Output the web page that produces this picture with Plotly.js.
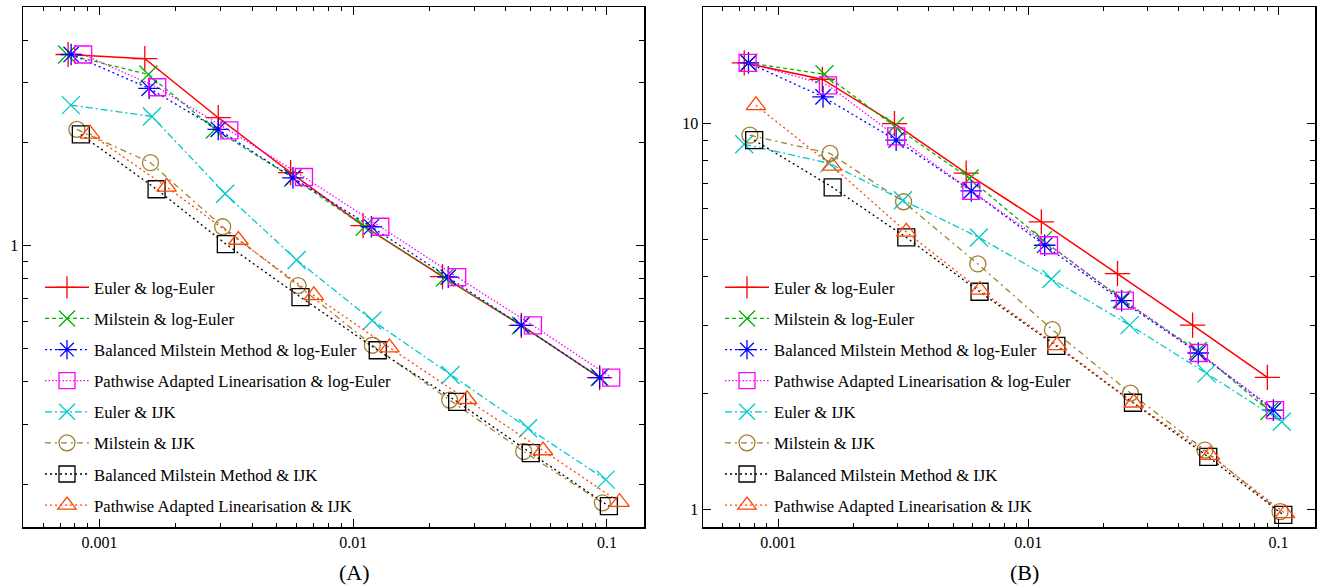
<!DOCTYPE html>
<html>
<head>
<meta charset="utf-8">
<script src="https://cdn.plot.ly/plotly-3.0.1.min.js"></script>
<style>
  html, body { margin: 0; padding: 0; background: #fff; }
  #chart { width: 1325px; height: 587px; }
</style>
</head>
<body>
<div id="chart"></div>
<script>
// Series names (shared by both panels)
const seriesNames = [
  "Euler & log-Euler",
  "Milstein & log-Euler",
  "Balanced Milstein Method & log-Euler",
  "Pathwise Adapted Linearisation & log-Euler",
  "Euler & IJK",
  "Milstein & IJK",
  "Balanced Milstein Method & IJK",
  "Pathwise Adapted Linearisation & IJK"
];

// Panel (A): step size vs error
const aEulerLogX   = [0.000753, 0.00151, 0.00294, 0.00567, 0.01094, 0.0225, 0.046, 0.0936];
const aEulerLogY   = [3.63, 3.53, 2.37, 1.636, 1.144, 0.812, 0.584, 0.411];
const aMilLogX     = [0.000746, 0.00156, 0.00285, 0.00579, 0.0111, 0.0230, 0.0458, 0.0936];
const aMilLogY     = [3.63, 3.17, 2.19, 1.58, 1.136, 0.807, 0.584, 0.412];
const aBalLogX     = [0.000774, 0.00157, 0.00294, 0.00579, 0.0118, 0.0237, 0.046, 0.0936];
const aBalLogY     = [3.63, 2.89, 2.19, 1.58, 1.136, 0.809, 0.584, 0.411];
const aPalLogX     = [0.000863, 0.00169, 0.00325, 0.0064, 0.0128, 0.0257, 0.0511, 0.104];
const aPalLogY     = [3.63, 2.91, 2.175, 1.589, 1.136, 0.809, 0.584, 0.411];
const aEulerIjkX   = [0.000772, 0.00161, 0.00313, 0.00599, 0.0119, 0.0242, 0.0489, 0.0989];
const aEulerIjkY   = [2.58, 2.39, 1.42, 0.908, 0.604, 0.418, 0.292, 0.2065];
const aMilIjkX     = [0.000815, 0.00159, 0.00306, 0.00607, 0.0119, 0.0240, 0.0470, 0.0960];
const aMilIjkY     = [2.19, 1.75, 1.136, 0.764, 0.511, 0.353, 0.2496, 0.1766];
const aBalIjkX     = [0.000845, 0.00168, 0.00315, 0.0062, 0.0125, 0.0257, 0.0501, 0.1018];
const aBalIjkY     = [2.117, 1.463, 1.011, 0.707, 0.494, 0.349, 0.247, 0.1726];
const aPalIjkX     = [0.000919, 0.00184, 0.00353, 0.0070, 0.0139, 0.0281, 0.056, 0.1122];
const aPalIjkY     = [2.126, 1.486, 1.039, 0.715, 0.503, 0.355, 0.2513, 0.1773];

// Panel (B): step size vs error
const bEulerLogX   = [0.000731, 0.0015, 0.002915, 0.00564, 0.01127, 0.02272, 0.04537, 0.0903];
const bEulerLogY   = [14.33, 13.0, 9.98, 7.43, 5.55, 4.08, 3.00, 2.196];
const bMilLogX     = [0.00076, 0.00153, 0.00292, 0.00582, 0.01144, 0.0236, 0.0476, 0.092];
const bMilLogY     = [14.33, 13.39, 9.82, 7.19, 4.98, 3.50, 2.57, 1.797];
const bBalLogX     = [0.00076, 0.00151, 0.00296, 0.00591, 0.01162, 0.0236, 0.0478, 0.0954];
const bBalLogY     = [14.33, 11.70, 9.04, 6.68, 4.83, 3.47, 2.54, 1.807];
const bPalLogX     = [0.000754, 0.00158, 0.00296, 0.00591, 0.01209, 0.0243, 0.0481, 0.0969];
const bPalLogY     = [14.33, 12.54, 9.25, 6.68, 4.83, 3.47, 2.54, 1.807];
const bEulerIjkX   = [0.000731, 0.0016, 0.00315, 0.00634, 0.01236, 0.0254, 0.0516, 0.1031];
const bEulerIjkY   = [8.82, 7.87, 6.32, 5.06, 3.95, 3.00, 2.25, 1.686];
const bMilIjkX     = [0.00077, 0.00161, 0.00317, 0.00628, 0.01248, 0.0256, 0.0508, 0.1015];
const bMilIjkY     = [9.31, 8.35, 6.26, 4.32, 2.92, 2.00, 1.424, 0.986];
const bBalIjkX     = [0.000801, 0.00165, 0.00325, 0.00638, 0.01294, 0.0262, 0.0524, 0.1046];
const bBalIjkY     = [9.04, 6.82, 5.06, 3.66, 2.65, 1.888, 1.368, 0.967];
const bPalIjkX     = [0.000814, 0.00164, 0.00325, 0.0064, 0.01302, 0.0264, 0.0532, 0.1062];
const bPalIjkY     = [11.13, 7.75, 5.23, 3.70, 2.66, 1.888, 1.382, 0.976];

// Axis ticks
const xTickVals = [0.001, 0.01, 0.1];
const xTickText = ["0.001", "0.01", "0.1"];
const xMinorVals = [0.0006, 0.0007, 0.0008, 0.0009,
  0.002, 0.003, 0.004, 0.005, 0.006, 0.007, 0.008, 0.009,
  0.02, 0.03, 0.04, 0.05, 0.06, 0.07, 0.08, 0.09];
const aYTickVals = [1];
const aYTickText = ["1"];
const aYMinorVals = [0.2, 0.3, 0.4, 0.5, 0.6, 0.7, 0.8, 0.9, 2, 3, 4];
const bYTickVals = [1, 10];
const bYTickText = ["1", "10"];
const bYMinorVals = [2, 3, 4, 5, 6, 7, 8, 9];

// Per-series styling
const styles = [
  { color: "#ff0000", dash: "solid",            symbol: "cross-thin-open",  size: 18, width: 1.5 },
  { color: "#00b400", dash: "4px,3px",          symbol: "x-thin-open",      size: 18, width: 1.3 },
  { color: "#0000ff", dash: "2px,3px",          symbol: "asterisk-open",    size: 18, width: 1.3 },
  { color: "#ff00ff", dash: "1.5px,2px",        symbol: "square-open",      size: 17, width: 1.3 },
  { color: "#00c8c8", dash: "7px,3px,2px,3px",  symbol: "x-thin-open",      size: 18, width: 1.3 },
  { color: "#a08030", dash: "6px,4px,2px,4px",  symbol: "circle-open",      size: 16, width: 1.3 },
  { color: "#000000", dash: "2px,3px",          symbol: "square-open",      size: 17, width: 1.3 },
  { color: "#ff4500", dash: "2px,3px",          symbol: "triangle-up-open", size: 17, width: 1.3 }
];

const panelA = [
  [aEulerLogX, aEulerLogY], [aMilLogX, aMilLogY], [aBalLogX, aBalLogY], [aPalLogX, aPalLogY],
  [aEulerIjkX, aEulerIjkY], [aMilIjkX, aMilIjkY], [aBalIjkX, aBalIjkY], [aPalIjkX, aPalIjkY]
];
const panelB = [
  [bEulerLogX, bEulerLogY], [bMilLogX, bMilLogY], [bBalLogX, bBalLogY], [bPalLogX, bPalLogY],
  [bEulerIjkX, bEulerIjkY], [bMilIjkX, bMilIjkY], [bBalIjkX, bBalIjkY], [bPalIjkX, bPalIjkY]
];

function makeTrace(xy, i, xa, ya, legendId) {
  const s = styles[i];
  return {
    type: "scatter",
    mode: "lines+markers",
    x: xy[0], y: xy[1],
    xaxis: xa, yaxis: ya,
    name: seriesNames[i],
    legend: legendId,
    legendgroup: legendId + "_" + i,
    line: { color: s.color, dash: s.dash, width: s.width },
    marker: { symbol: s.symbol, size: s.size, color: s.color,
              line: { color: s.color, width: 1.3 } },
    hoverinfo: "x+y+name"
  };
}

const traces = [];
panelA.forEach((xy, i) => traces.push(makeTrace(xy, i, "x", "y", "legend")));
panelB.forEach((xy, i) => traces.push(makeTrace(xy, i, "x2", "y2", "legend2")));

const tickFont = { family: "Liberation Serif, Times New Roman, serif", size: 16, color: "#000" };

function xAxis(domain, anchor) {
  return {
    type: "log", domain: domain, anchor: anchor,
    range: [Math.log10(0.0005), Math.log10(0.14)],
    tickmode: "array", tickvals: xTickVals, ticktext: xTickText,
    ticks: "inside", ticklen: 8, tickwidth: 1, tickcolor: "#000",
    minor: { tickmode: "array", tickvals: xMinorVals, ticks: "inside", ticklen: 4, tickwidth: 1, tickcolor: "#000", showgrid: false },
    showgrid: false, zeroline: false,
    showline: true, linecolor: "#000", linewidth: 1.5, mirror: "ticks",
    tickfont: tickFont, fixedrange: true
  };
}
function yAxis(domain, anchor, lo, hi, vals, text, minorVals) {
  return {
    type: "log", domain: domain, anchor: anchor,
    range: [Math.log10(lo), Math.log10(hi)],
    tickmode: "array", tickvals: vals, ticktext: text,
    ticks: "inside", ticklen: 8, tickwidth: 1, tickcolor: "#000",
    minor: { tickmode: "array", tickvals: minorVals, ticks: "inside", ticklen: 5, tickwidth: 1, tickcolor: "#000", showgrid: false },
    showgrid: false, zeroline: false,
    showline: true, linecolor: "#000", linewidth: 1.5, mirror: "ticks",
    tickfont: tickFont, fixedrange: true
  };
}

const W = 1325, H = 587;
const yDom = [(H - 527) / H, (H - 7) / H];

const legendFont = { family: "Liberation Serif, Times New Roman, serif", size: 16.7, color: "#000" };
function legendBox(xPx) {
  return {
    x: xPx / W, xanchor: "left",
    y: (H - 270) / H, yanchor: "top",
    bgcolor: "rgba(0,0,0,0)", borderwidth: 0,
    font: legendFont, itemwidth: 44, tracegroupgap: 6.4,
    itemclick: false, itemdoubleclick: false
  };
}

const layout = {
  width: W, height: H,
  margin: { l: 0, r: 0, t: 0, b: 0 },
  paper_bgcolor: "#fff", plot_bgcolor: "#fff",
  xaxis: xAxis([23 / W, 644 / W], "y"),
  yaxis: yAxis(yDom, "x", 0.15, 5, aYTickVals, aYTickText, aYMinorVals),
  xaxis2: xAxis([703 / W, 1315 / W], "y2"),
  yaxis2: yAxis(yDom, "x2", 0.9, 20, bYTickVals, bYTickText, bYMinorVals),
  showlegend: true,
  legend: legendBox(40),
  legend2: legendBox(720),
  annotations: [
    { text: "(A)", x: 354 / W, y: 15 / H, xref: "paper", yref: "paper",
      xanchor: "center", yanchor: "middle", showarrow: false,
      font: { family: "Liberation Serif, Times New Roman, serif", size: 22, color: "#000" } },
    { text: "(B)", x: 1024 / W, y: 15 / H, xref: "paper", yref: "paper",
      xanchor: "center", yanchor: "middle", showarrow: false,
      font: { family: "Liberation Serif, Times New Roman, serif", size: 22, color: "#000" } }
  ]
};

Plotly.newPlot("chart", traces, layout, { displayModeBar: false, staticPlot: true });
</script>
</body>
</html>
